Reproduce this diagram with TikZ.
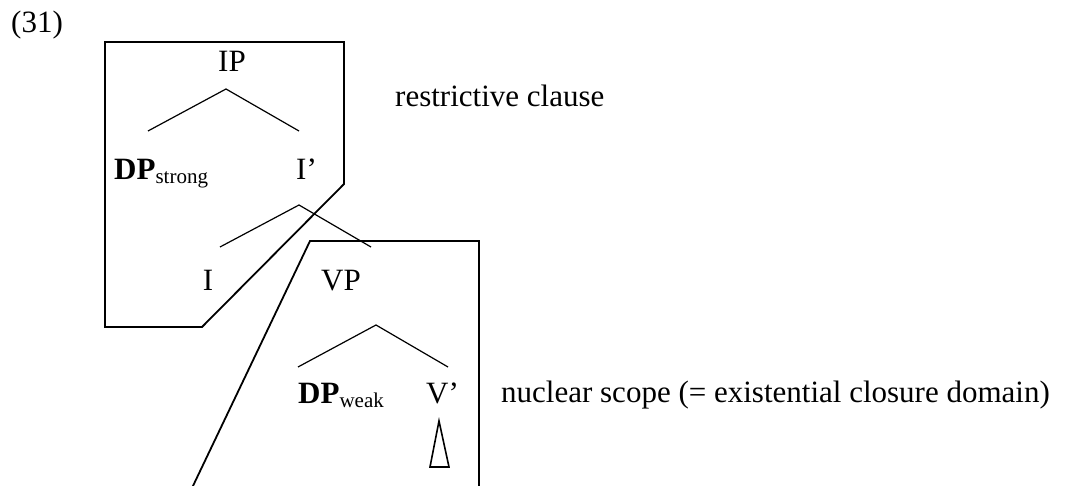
\documentclass[tikz,border=0pt]{standalone}
\usepackage{fontspec}
\setmainfont{Liberation Serif}
\newcommand{\lowsub}[1]{\raisebox{-4pt}{\fontsize{21}{24}\selectfont #1}}
\tikzset{
  lbl/.style={inner sep=0pt, anchor=base west, font=\fontsize{31}{37}\selectfont},
  boxline/.style={line width=1.8pt, line join=miter},
  branch/.style={line width=1.2pt},
  tri/.style={line width=1.6pt, line join=miter}
}
\begin{document}
\begin{tikzpicture}[x=1pt,y=-1pt]
\useasboundingbox (0,0) rectangle (1071,486);
% labels
\node[lbl] (ex) at (11,33) {(31)};
\node[lbl, anchor=base] (ip) at (232,72) {IP};
\node[lbl] (dps) at (114,180) {\textbf{DP}\lowsub{strong}};
\node[lbl] (ibar) at (296,180) {I’};
\node[lbl, anchor=base] (i) at (208,291) {I};
\node[lbl] (vp) at (321,291) {VP};
\node[lbl] (dpw) at (298,403) {\textbf{DP}\lowsub{weak}};
\node[lbl] (vbar) at (426,403) {V’};
\node[lbl] (rc) at (395,107) {restrictive clause};
\node[lbl] (ns) at (501,402) {nuclear scope (= existential closure domain)};
% branch points
\coordinate (ipA) at (226,89);
\coordinate (ipL) at (148,131);
\coordinate (ipR) at (299,131);
\coordinate (ibA) at (299,205);
\coordinate (ibL) at (220,247);
\coordinate (ibR) at (371,247);
\coordinate (vpA) at (376,325);
\coordinate (vpL) at (298,367);
\coordinate (vpR) at (448,367);
\coordinate (tA) at (439,421);
\coordinate (tL) at (430,467);
\coordinate (tR) at (449,467);
\draw[branch] (ipL) -- (ipA) -- (ipR);
\draw[branch] (ibL) -- (ibA) -- (ibR);
\draw[branch] (vpL) -- (vpA) -- (vpR);
\draw[tri] (tA) -- (tR) -- (tL) -- cycle;
% boxes
\coordinate (b1) at (105,42);
\coordinate (b2) at (344,42);
\coordinate (b3) at (344,184);
\coordinate (b4) at (202,327);
\coordinate (b5) at (105,327);
\draw[boxline] (b1) -- (b2) -- (b3) -- (b4) -- (b5) -- cycle;
\coordinate (c1) at (192,488);
\coordinate (c2) at (310,241);
\coordinate (c3) at (479,241);
\coordinate (c4) at (479,488);
\draw[boxline] (c1) -- (c2) -- (c3) -- (c4);
\end{tikzpicture}
\end{document}
